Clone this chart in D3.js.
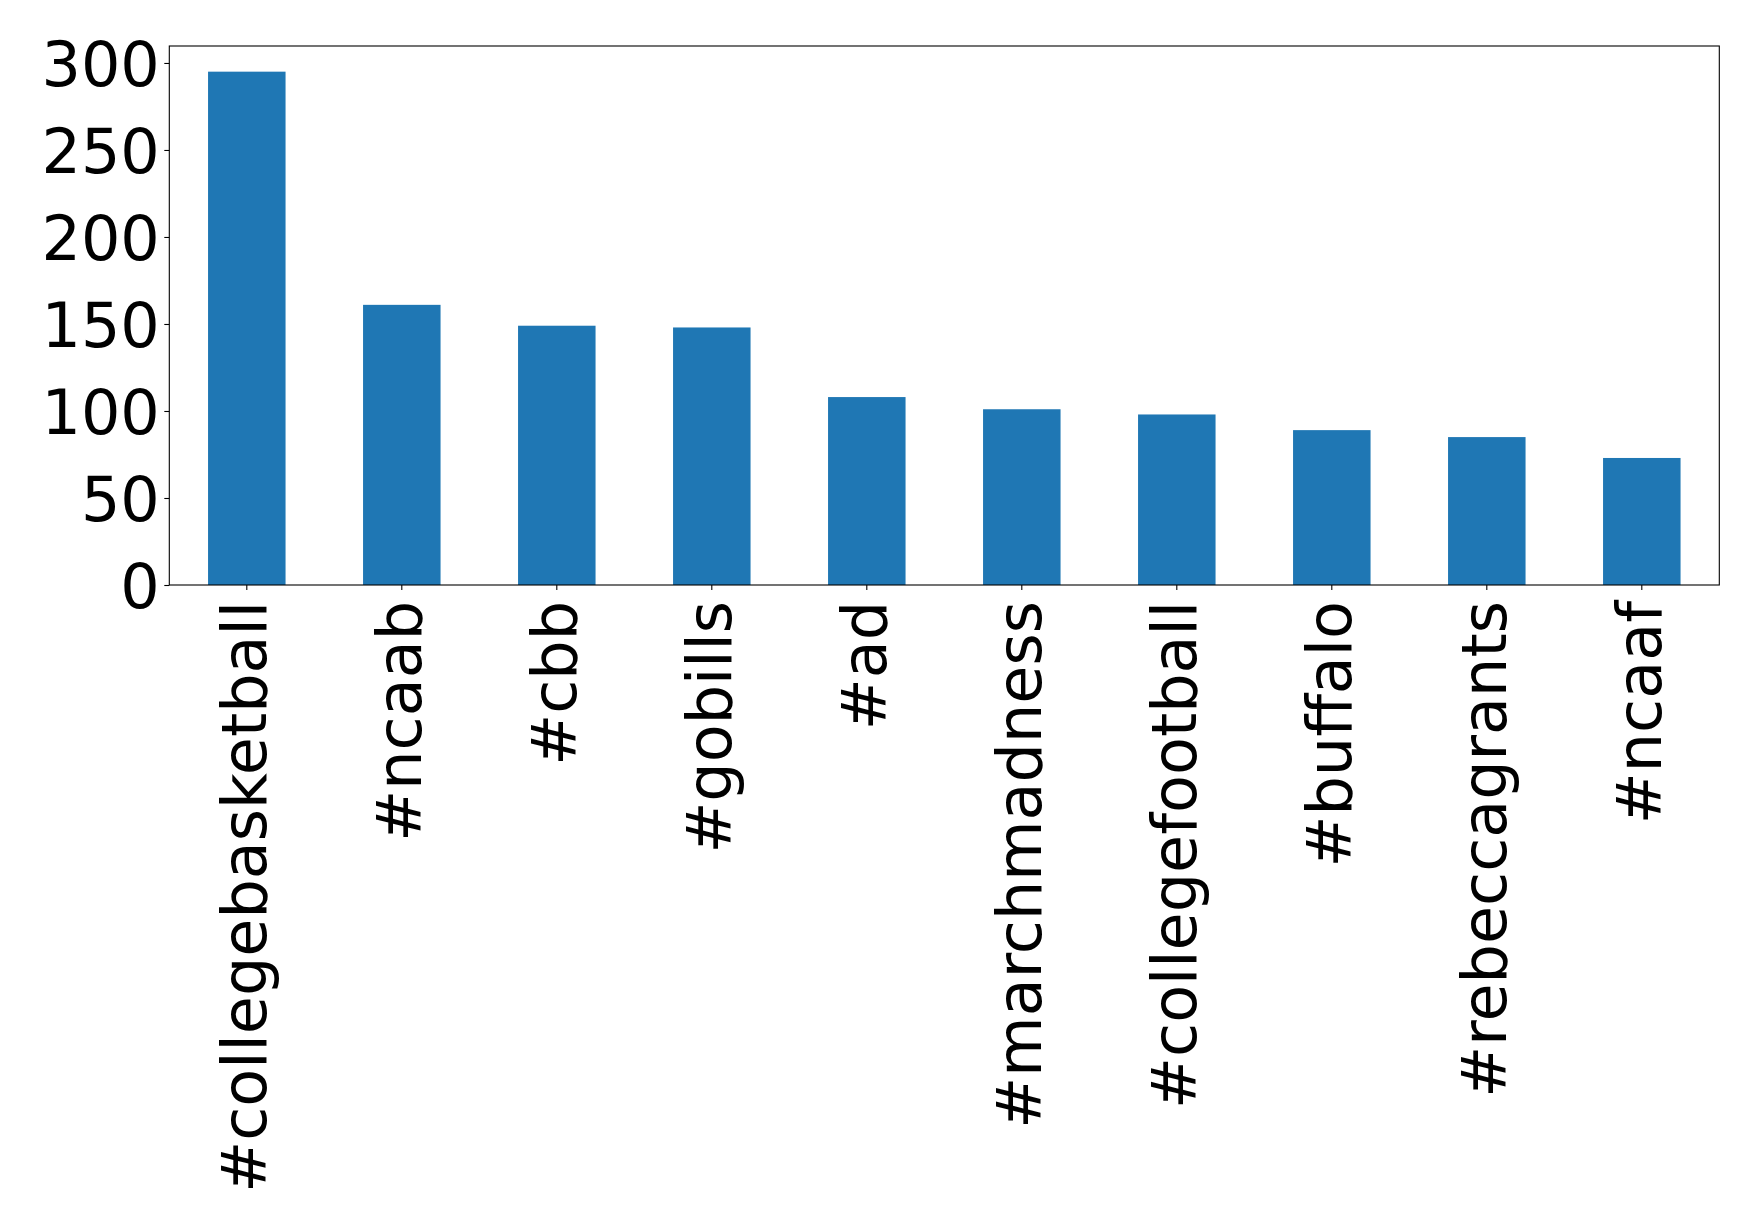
<!DOCTYPE html>
<html>
<head>
<meta charset="utf-8">
<script src="https://cdn.jsdelivr.net/npm/d3@7"></script>
<style>
  html, body { margin: 0; padding: 0; background: #fff; }
  svg { display: block; }
  text { font-family: "DejaVu Sans", sans-serif; fill: #000; }
</style>
</head>
<body>
<svg id="chart" width="1759" height="1231"></svg>
<script>
const categories = ["#collegebasketball", "#ncaab", "#cbb", "#gobills", "#ad",
  "#marchmadness", "#collegefootball", "#buffalo", "#rebeccagrants", "#ncaaf"];
const counts = [295, 161, 149, 148, 108, 101, 98, 89, 85, 73];
const yTicks = [0, 50, 100, 150, 200, 250, 300];

const W = 1759, H = 1231;
const margin = { left: 169.3, right: W - 1719.3, top: 46, bottom: H - 585 };
const svg = d3.select("#chart");
svg.append("rect").attr("width", W).attr("height", H).attr("fill", "#fff");

const x = d3.scaleBand()
  .domain(categories)
  .range([margin.left, W - margin.right])
  .paddingInner(0.5)
  .paddingOuter(0.25);

const yMax = d3.max(counts) * 1.05;
const y = d3.scaleLinear()
  .domain([0, yMax])
  .range([H - margin.bottom, margin.top]);

// bars
svg.append("g").selectAll("rect")
  .data(categories.map((c, i) => ({ c, v: counts[i] })))
  .join("rect")
  .attr("x", d => x(d.c))
  .attr("width", x.bandwidth())
  .attr("y", d => y(d.v))
  .attr("height", d => y(0) - y(d.v))
  .attr("fill", "#1f77b4");

const fontSize = 62;

// y axis
const yAxis = svg.append("g")
  .attr("transform", `translate(${margin.left},0)`)
  .call(d3.axisLeft(y).tickValues(yTicks).tickSize(5).tickPadding(4.5).tickFormat(d3.format("d")));
yAxis.select(".domain").remove();
yAxis.selectAll(".tick line").attr("stroke", "#000").attr("stroke-width", 1.1);
yAxis.selectAll(".tick text")
  .attr("font-family", "DejaVu Sans")
  .attr("font-size", fontSize)
  .attr("fill", "#000")
  .attr("dy", "0.3645em");

// x axis
const xAxis = svg.append("g")
  .attr("transform", `translate(0,${H - margin.bottom})`)
  .call(d3.axisBottom(x).tickSize(5).tickSizeOuter(0));
xAxis.select(".domain").remove();
xAxis.selectAll(".tick line").attr("stroke", "#000").attr("stroke-width", 1.1);
xAxis.selectAll(".tick text")
  .attr("font-family", "DejaVu Sans")
  .attr("font-size", fontSize)
  .attr("fill", "#000")
  .attr("text-anchor", "end")
  .attr("x", 0)
  .attr("y", 0)
  .attr("dy", null)
  .attr("transform", "translate(19.5,16) rotate(-90)");

// frame
svg.append("rect")
  .attr("x", margin.left)
  .attr("y", margin.top)
  .attr("width", W - margin.left - margin.right)
  .attr("height", H - margin.top - margin.bottom)
  .attr("fill", "none")
  .attr("stroke", "#000")
  .attr("stroke-width", 1.1);
</script>
</body>
</html>
